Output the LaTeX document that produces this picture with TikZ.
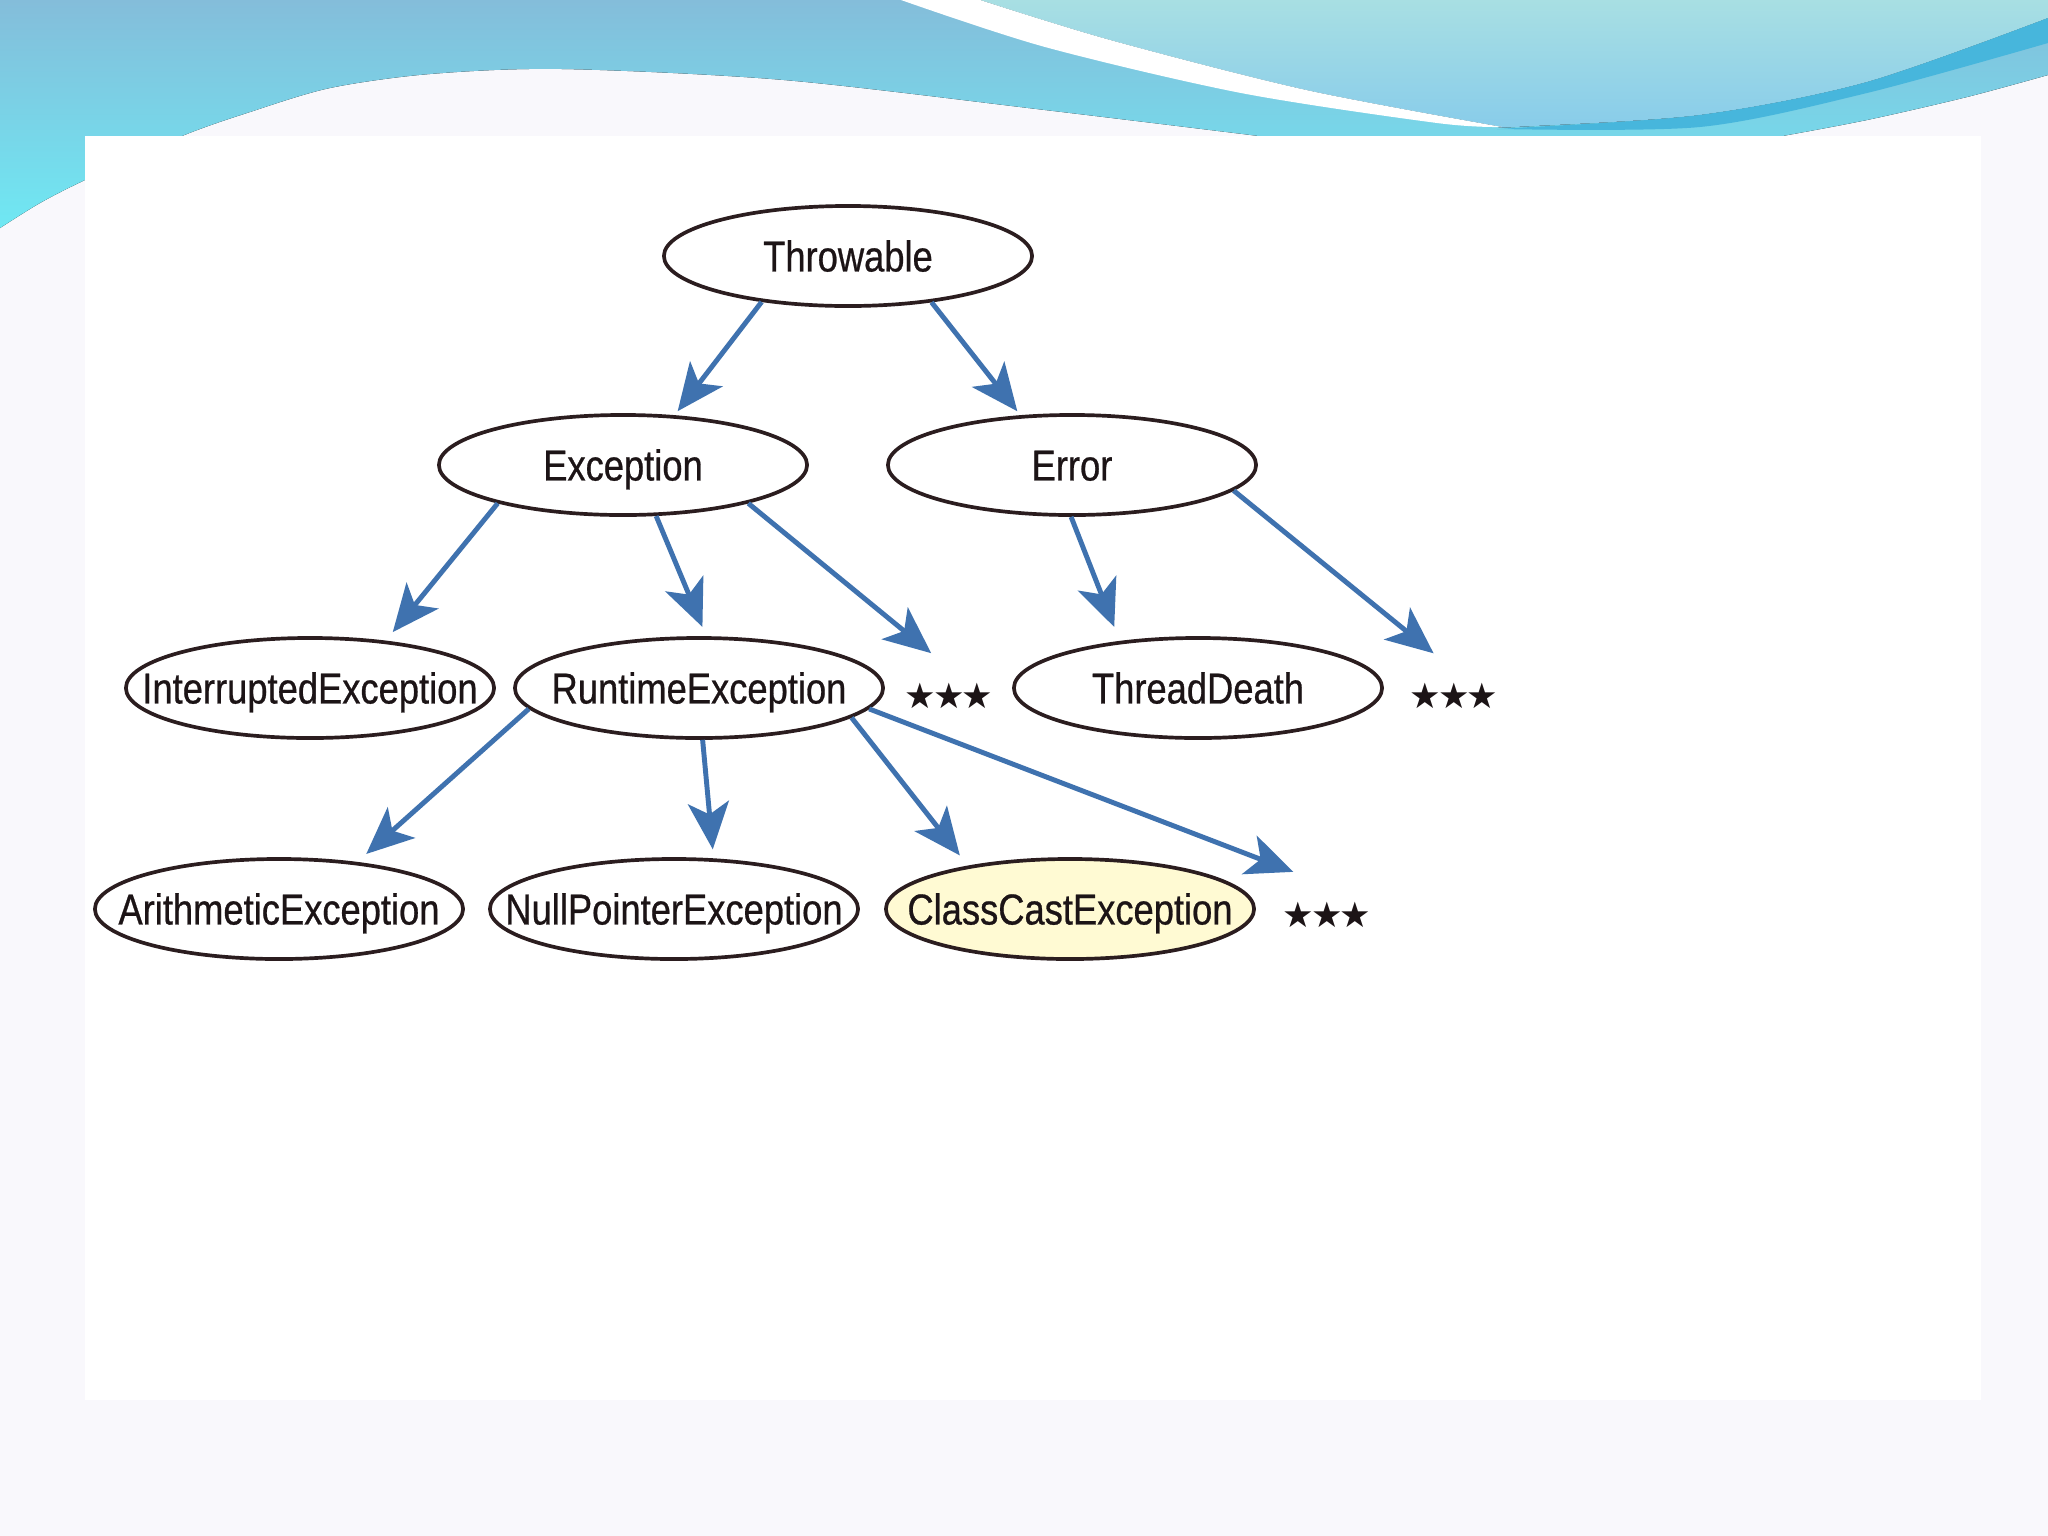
\documentclass[tikz,border=0pt]{standalone}
\usepackage{fontspec}
\setmainfont{Liberation Sans}[FakeStretch=0.84,FakeBold=0.6]
\newfontfamily\starfont{DejaVu Sans}
\usetikzlibrary{arrows.meta,shapes.geometric}
\definecolor{edgec}{HTML}{2B1D1F}
\definecolor{txtc}{HTML}{1C1416}
\definecolor{arrc}{HTML}{3F72AF}
\definecolor{ccfill}{HTML}{FFFAD3}
\definecolor{bgc}{HTML}{F9F8FC}
\definecolor{tealtop}{HTML}{84BDDA}
\definecolor{tealbot}{HTML}{6FE8F3}
\definecolor{paletop}{HTML}{A8DFE3}
\definecolor{palebot}{HTML}{88CCEA}
\definecolor{darkstripe}{HTML}{47B6DC}
\newcommand{\clsname}[1]{\makebox[0pt]{#1}}
\newcommand{\threestars}{★\kern-0.9pt★\kern-0.9pt★}
\begin{document}
\begin{tikzpicture}[x=0.01cm,y=-0.01cm,
  cls/.style={ellipse, draw=edgec, line width=1.05pt, fill=white,
    minimum width=3.68cm, minimum height=1.0cm, inner sep=0pt,
    text height=8.8pt, text depth=0pt,
    font=\fontsize{12.3}{14}\selectfont, text=txtc},
  stars/.style={inner sep=0pt, text height=7pt, text depth=0pt,
    font=\starfont\fontsize{10}{12}\selectfont, text=txtc},
  inh/.style={draw=arrc, line width=1.4pt,
    -{Stealth[length=0.47cm,width=0.41cm,inset=0.12cm]}}
]
\useasboundingbox (0,0) rectangle (2048,1536);
% background
\fill[bgc] (0,0) rectangle (2048,1536);
% teal banner region
\fill[top color=tealtop, bottom color=tealbot]
  (0,0) -- (2048,0) --
  plot[smooth] coordinates {(2048,75) (1967,97) (1867,120) (1777,137)}
  -- (1777,170) -- (1267,170) --
  plot[smooth] coordinates {(1267,137) (1045,110) (784,80) (562,69) (430,74) (330,88) (250,112) (182,136) (85,180) (40,203) (0,228)}
  -- cycle;
% pale region
\fill[top color=paletop, bottom color=palebot]
  (980,0) -- (2048,0) --
  plot[smooth] coordinates {(2048,18) (1867,82) (1700,115) (1515,127) (1502,127)}
  -- plot[smooth] coordinates {(1502,127) (1306,90) (1110,40) (980,0)} -- cycle;
% white stripe
\fill[white]
  plot[smooth] coordinates {(901,0) (1045,47) (1241,93) (1437,123) (1502,127)}
  -- plot[smooth] coordinates {(1502,127) (1306,90) (1110,40) (980,0)} -- cycle;
% dark stripe
\fill[darkstripe]
  plot[smooth] coordinates {(2048,18) (1867,82) (1700,115) (1515,128) (1500,129)}
  -- plot[smooth] coordinates {(1500,129) (1700,127) (1867,93) (2048,43)} -- cycle;
% content panel
\fill[white] (85,136) rectangle (1981,1400);

% nodes
\node[cls] (T)  at (848,256) {\clsname{Throwable}};
\node[cls] (Ex) at (623,465) {\clsname{Exception}};
\node[cls] (Er) at (1072,465) {\clsname{Error}};
\node[cls] (IE) at (310,688) {\clsname{InterruptedException}};
\node[cls] (RE) at (699,688) {\clsname{RuntimeException}};
\node[stars] (s1) at (949,696) {\threestars};
\node[cls] (TD) at (1198,688) {\clsname{ThreadDeath}};
\node[stars] (s2) at (1454,696) {\threestars};
\node[cls] (AE) at (279,909) {\clsname{ArithmeticException}};
\node[cls] (NP) at (674,909) {\clsname{NullPointerException}};
\node[cls, fill=ccfill] (CC) at (1070,909) {\clsname{ClassCastException}};
\node[stars] (s3) at (1327,915) {\threestars};

% connectors
\draw[inh, shorten >=0.05cm] (T.208) -- (Ex.44);
\draw[inh, shorten >=0.05cm] (T.331) -- (Er.136);
\draw[inh, shorten >=0.11cm] (Ex.197) -- (IE.32);
\draw[inh, shorten >=0.10cm] (Ex.303) -- (RE.82);
\draw[inh, shorten >=0.47cm] (Ex.343) -- (s1.35);
\draw[inh, shorten >=0.15cm] (Er.269) -- (TD.149);
\draw[inh, shorten >=0.47cm] (Er.351) -- (s2.39);
\draw[inh, shorten >=0.12cm] (RE.187) -- (AE.31);
\draw[inh, shorten >=0.09cm] (RE.274) -- (NP.52);
\draw[inh, shorten >=0.13cm] (RE.349) -- (CC.157);
\draw[inh, shorten >=0.84cm] (RE.353) -- (s3.north east);
\end{tikzpicture}
\end{document}
